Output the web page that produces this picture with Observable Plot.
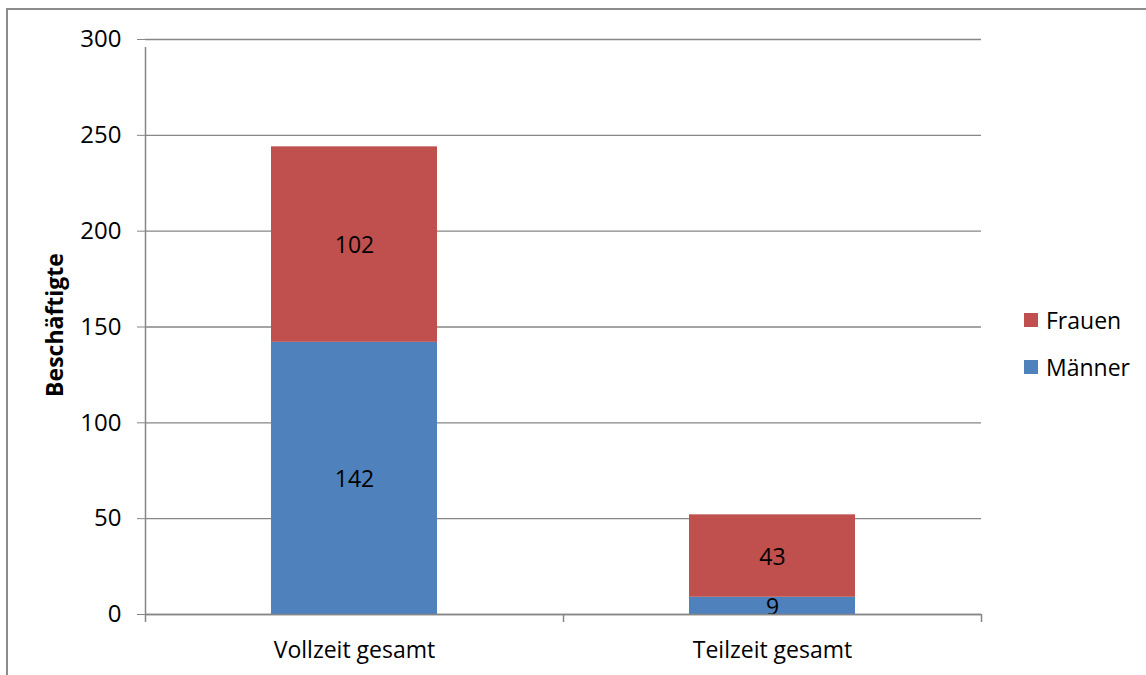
<!DOCTYPE html>
<html>
<head>
<meta charset="utf-8">
<script src="https://cdn.jsdelivr.net/npm/d3@7"></script>
<script src="https://cdn.jsdelivr.net/npm/@observablehq/plot@0.6"></script>
<style>
  html, body { margin: 0; padding: 0; background: #fff; overflow: hidden; }
  body { width: 1146px; height: 675px; position: relative; font-family: "Open Sans", sans-serif; }
  #frame { position: absolute; left: 6px; top: 8px; width: 3000px; height: 3000px; border-left: 2px solid #8c8c8c; border-top: 2px solid #8c8c8c; box-sizing: border-box; }
  #chart { position: absolute; left: 0; top: 0; }
  #legend { position: absolute; left: 1024px; top: 304px; font-size: 23px; color: #000; }
  .item { display: flex; align-items: center; height: 32px; margin-bottom: 15px; }
  .sw { width: 14px; height: 14px; margin-right: 8px; }
</style>
</head>
<body>
<div id="frame"></div>
<div id="chart"></div>
<div id="legend"></div>
<script>
const categories = ["Vollzeit gesamt", "Teilzeit gesamt"];
const series = ["Männer", "Frauen"];
const maenner = [142, 9];
const frauen = [102, 43];
const yTicks = [0, 50, 100, 150, 200, 250, 300];
const colors = ["#4F81BD", "#C0504D"];
const legendOrder = ["Frauen", "Männer"];

const rows = [];
categories.forEach((c, i) => {
  rows.push({cat: c, series: "Männer", value: maenner[i]});
  rows.push({cat: c, series: "Frauen", value: frauen[i]});
});

const FS = 24;
const grid = "#868686";
const plot = Plot.plot({
  width: 1146,
  height: 675,
  marginLeft: 145,
  marginRight: 165,
  marginTop: 39,
  marginBottom: 61,
  style: {fontFamily: "'Open Sans', sans-serif", fontSize: FS + "px", color: "#000", background: "transparent"},
  x: {domain: categories, paddingInner: 0.603, paddingOuter: 0.3015, label: null},
  y: {domain: [0, 300], ticks: yTicks, label: null},
  color: {domain: series, range: colors},
  marks: [
    Plot.gridY(yTicks, {stroke: grid, strokeOpacity: 1, strokeWidth: 1.3}),
    Plot.barY(rows, Plot.stackY({x: "cat", y: "value", fill: "series", order: series})),
    Plot.text(rows, Plot.stackY({x: "cat", y: "value", z: "series", order: series, text: d => String(d.value), fill: "#000", fontSize: FS - 1, dy: 1.5})),
    Plot.ruleY([0], {stroke: grid, strokeWidth: 1.5}),
    Plot.axisY({ticks: yTicks, tickSize: 8, tickPadding: 16, stroke: grid, strokeOpacity: 1, tickFormat: d => String(d), fontSize: FS}),
    Plot.axisX({tickSize: 0, tickPadding: 27, fontSize: FS - 1}),
    Plot.ruleX(categories, {x: d => d, dx: -209, y1: 0, y2: 0, insetBottom: -8, stroke: grid, strokeWidth: 1.5}),
    Plot.ruleX([categories[categories.length - 1]], {x: d => d, dx: 209, y1: 0, y2: 0, insetBottom: -8, stroke: grid, strokeWidth: 1.5}),
    Plot.ruleX([categories[0]], {x: d => d, dx: -209, y1: 0, y2: 300, insetBottom: -8, stroke: grid, strokeWidth: 1.5}),
    Plot.text(["Beschäftigte"], {frameAnchor: "left", textAnchor: "middle", dx: -90, dy: -2, rotate: -90, text: d => d, fontWeight: "bold", fontSize: FS - 1, fill: "#000"})
  ]
});
document.getElementById("chart").appendChild(plot);

const legend = document.getElementById("legend");
legendOrder.forEach(name => {
  const item = document.createElement("div");
  item.className = "item";
  const sw = document.createElement("div");
  sw.className = "sw";
  sw.style.background = colors[series.indexOf(name)];
  const label = document.createElement("span");
  label.textContent = name;
  item.appendChild(sw);
  item.appendChild(label);
  legend.appendChild(item);
});
</script>
</body>
</html>
